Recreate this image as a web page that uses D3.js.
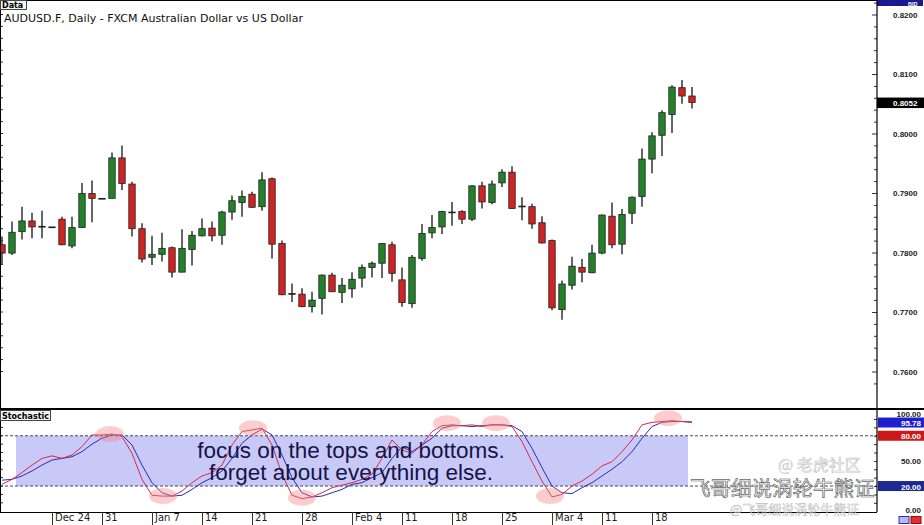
<!DOCTYPE html>
<html>
<head>
<meta charset="utf-8">
<script src="https://cdn.jsdelivr.net/npm/d3@7"></script>
<style>
  body { margin: 0; background: #fff; }
  svg { display: block; }
</style>
</head>
<body>
<svg id="grafico"></svg>
<script>
// AUDUSD daily candles, Dec 17 2012 .. Mar 22 2013 (weekdays)
const abertura = [0.7813,0.7799,0.7835,0.7853,0.7844,0.7843,0.7856,0.7811,0.7842,0.7899,
  0.7891,0.7891,0.7959,0.7915,0.7840,0.7792,0.7797,0.7808,0.7767,0.7805,
  0.7828,0.7841,0.7829,0.7868,0.7884,0.7898,0.7877,0.7924,0.7815,0.7731,
  0.7730,0.7709,0.7723,0.7762,0.7733,0.7739,0.7757,0.7775,0.7782,0.7813,
  0.7754,0.7714,0.7790,0.7833,0.7843,0.7868,0.7869,0.7856,0.7912,0.7884,
  0.7917,0.7935,0.7878,0.7877,0.7850,0.7820,0.7704,0.7745,0.7775,0.7766,
  0.7799,0.7861,0.7814,0.7866,0.7894,0.7957,0.7997,0.8032,0.8077,0.8063];
const maxima = [0.7827,0.7852,0.7877,0.7867,0.7870,0.7843,0.7860,0.7860,0.7917,0.7921,
  0.7891,0.7968,0.7980,0.7919,0.7849,0.7828,0.7833,0.7810,0.7839,0.7836,
  0.7857,0.7852,0.7870,0.7896,0.7904,0.7902,0.7935,0.7926,0.7820,0.7748,
  0.7740,0.7734,0.7763,0.7766,0.7757,0.7767,0.7780,0.7785,0.7816,0.7818,
  0.7775,0.7796,0.7848,0.7863,0.7870,0.7885,0.7871,0.7913,0.7919,0.7921,
  0.7940,0.7945,0.7893,0.7882,0.7861,0.7822,0.7753,0.7793,0.7789,0.7813,
  0.7864,0.7884,0.7873,0.7894,0.7975,0.8002,0.8039,0.8081,0.8090,0.8078];
const minimas = [0.7779,0.7796,0.7822,0.7824,0.7824,0.7843,0.7812,0.7807,0.7841,0.7851,
  0.7891,0.7891,0.7905,0.7827,0.7783,0.7779,0.7785,0.7758,0.7767,0.7778,
  0.7827,0.7819,0.7813,0.7855,0.7860,0.7875,0.7870,0.7790,0.7728,0.7717,
  0.7708,0.7699,0.7696,0.7734,0.7715,0.7724,0.7741,0.7758,0.7757,0.7751,
  0.7709,0.7707,0.7786,0.7824,0.7831,0.7845,0.7848,0.7853,0.7874,0.7881,
  0.7910,0.7873,0.7854,0.7840,0.7815,0.7703,0.7687,0.7738,0.7750,0.7765,
  0.7797,0.7807,0.7797,0.7848,0.7877,0.7933,0.7962,0.8001,0.8050,0.8042];
const fechamento = [0.7799,0.7834,0.7853,0.7843,0.7843,0.7843,0.7813,0.7842,0.7899,0.7891,
  0.7891,0.7959,0.7916,0.7840,0.7789,0.7797,0.7807,0.7767,0.7807,0.7829,
  0.7840,0.7828,0.7868,0.7887,0.7894,0.7876,0.7922,0.7814,0.7729,0.7730,
  0.7709,0.7720,0.7762,0.7734,0.7745,0.7755,0.7775,0.7782,0.7815,0.7765,
  0.7716,0.7792,0.7832,0.7842,0.7869,0.7867,0.7856,0.7912,0.7885,0.7915,
  0.7935,0.7874,0.7877,0.7848,0.7816,0.7707,0.7747,0.7777,0.7767,0.7799,
  0.7863,0.7813,0.7864,0.7893,0.7957,0.7996,0.8035,0.8078,0.8063,0.8052];

// stochastic %K (red) and %D (blue)
const estocK = [22,28,36,45,53,56,53,57,67,81, 81,82,79,59,28,9,8,8,14,24,
  32,36,45,69,85,87,89,69,34,9, 5,7,12,18,21,24,28,34,53,75,
  63,59,69,85,92,93,92,93,91,93, 93,91,73,49,26,7,10,20,26,34,
  44,49,61,75,93,96,97,98,97,95.8];
const estocD = [27,28,32,38,45,51,53,55,61,70, 77,81,81,69,45,24,12,8,9,16,
  24,30,38,53,71,81,88,81,57,30, 12,7,8,12,16,22,24,30,36,53,
  67,61,69,77,89,92,92,91,92,93, 93,92,85,65,42,20,12,11,18,24,
  32,40,49,61,77,91,96,97,97,96.5];

// date axis: candle index of each Monday and its label
const indiceDatas = [5,10,15,20,25,30,35,40,45,50,55,60,65];
const rotulosDatas = ['Dec 24','31','Jan 7','14','21','28','Feb 4','11','18','25','Mar 4','11','18'];

// highlighted tops and bottoms (candle index, stochastic value)
const destaqueIndice = [10.8,16.1,25.1,30,44.5,49.4,54.8,66.6];
const destaqueValor = [82,8,89,6,95,95,8,101];

const largura = 924, altura = 525;
const eixoX = 877;
const svg = d3.select('#grafico').attr('width', largura).attr('height', altura)
  .style('font-family', '"DejaVu Sans", Verdana, sans-serif');

const x = d3.scaleLinear().domain([0, 69]).range([2, 692]);
const y = d3.scaleLinear().domain([0.76, 0.82]).range([371.5, 14.5]);
const yEst = d3.scaleLinear().domain([0, 100]).range([502.8, 419]);

const defs = svg.append('defs');
defs.append('clipPath').attr('id', 'clipPreco').append('rect')
  .attr('x', 0).attr('y', 0).attr('width', eixoX).attr('height', 408);
defs.append('clipPath').attr('id', 'clipEst').append('rect')
  .attr('x', 0).attr('y', 410).attr('width', eixoX).attr('height', 102);

// ---------- price panel ----------
const precos = svg.append('g').attr('clip-path', 'url(#clipPreco)');
const dados = d3.range(abertura.length).map(i => ({
  i, o: abertura[i], h: maxima[i], l: minimas[i], c: fechamento[i]
}));

precos.selectAll('.pavio')
  .data(dados)
  .enter()
  .append('line')
  .classed('pavio', true)
  .attr('x1', d => x(d.i)).attr('x2', d => x(d.i))
  .attr('y1', d => y(d.h)).attr('y2', d => y(d.l))
  .attr('stroke', '#333').attr('stroke-width', 1.5);

precos.selectAll('.corpo')
  .data(dados)
  .enter()
  .append('rect')
  .classed('corpo', true)
  .attr('x', d => x(d.i) - 3.2)
  .attr('y', d => y(Math.max(d.o, d.c)))
  .attr('width', 6.4)
  .attr('height', d => Math.max(0.8, Math.abs(y(d.o) - y(d.c))))
  .attr('fill', d => d.c > d.o ? '#23812a' : (d.c < d.o ? '#d02424' : '#222'))
  .attr('stroke', '#222').attr('stroke-width', 0.8);

// left minor ticks
svg.selectAll('.tickEsq')
  .data(d3.range(0.760, 0.8201, 0.002))
  .enter()
  .append('line')
  .attr('x1', 0).attr('x2', 3)
  .attr('y1', d => y(d)).attr('y2', d => y(d))
  .attr('stroke', '#333');

// right price axis
const eixoPreco = d3.axisRight(y)
  .tickValues(d3.range(0.758, 0.8221, 0.002))
  .tickSize(-3)
  .tickPadding(16)
  .tickFormat(d => Math.abs(Math.round(d * 1000) % 10) === 0 ? d3.format('.4f')(d) : '');
const gEixo = svg.append('g').attr('transform', `translate(${eixoX},0)`).call(eixoPreco);
gEixo.select('.domain').remove();
gEixo.selectAll('text').attr('font-family', '"Liberation Sans", Arial, sans-serif')
  .attr('font-weight', 'bold').attr('font-size', 8).attr('fill', '#222');
gEixo.selectAll('.tick line').attr('stroke', '#333')
  .attr('x2', d => Math.abs(Math.round(d * 1000) % 10) === 0 ? -5 : -3);
gEixo.selectAll('.tick').filter(d => y(d) < 2 || y(d) > 406).remove();

// BID label and current price
svg.append('rect').attr('x', eixoX).attr('y', 0).attr('width', 46).attr('height', 6).attr('fill', '#1b1b8f');
svg.append('text').attr('x', 908).attr('y', 5.5).attr('font-size', 5.5).attr('fill', '#fff')
  .attr('font-weight', 'bold').attr('font-family', '"Liberation Sans", Arial').text('BID');
const ultimo = fechamento[fechamento.length - 1];
svg.append('rect').attr('x', eixoX).attr('y', y(ultimo) - 5).attr('width', 47).attr('height', 10.5).attr('fill', '#000');
svg.append('text').attr('x', 893).attr('y', y(ultimo) + 3).attr('font-size', 8).attr('fill', '#fff')
  .attr('font-weight', 'bold').attr('font-family', '"Liberation Sans", Arial').text(d3.format('.4f')(ultimo));

// ---------- stochastic panel ----------
const est = svg.append('g').attr('clip-path', 'url(#clipEst)');

est.append('rect')
  .attr('x', x(1.4)).attr('y', yEst(80))
  .attr('width', x(68.6) - x(1.4)).attr('height', yEst(20) - yEst(80))
  .attr('fill', '#c9c9f7');

est.selectAll('.nivel')
  .data([80, 20])
  .enter()
  .append('line')
  .attr('x1', 0).attr('x2', eixoX)
  .attr('y1', d => yEst(d)).attr('y2', d => yEst(d))
  .attr('stroke', '#333355').attr('stroke-width', 0.9).attr('stroke-dasharray', '3,2');

const linha = d3.line().x((d, i) => x(i)).y(d => yEst(d)).curve(d3.curveLinear);
est.append('path').datum(estocD).attr('d', linha)
  .attr('fill', 'none').attr('stroke', '#2a2ab4').attr('stroke-width', 1);
est.append('path').datum(estocK).attr('d', linha)
  .attr('fill', 'none').attr('stroke', '#d42a4a').attr('stroke-width', 1);

est.selectAll('.destaque')
  .data(destaqueIndice)
  .enter()
  .append('ellipse')
  .attr('cx', d => x(d))
  .attr('cy', (d, i) => yEst(destaqueValor[i]))
  .attr('rx', 14).attr('ry', 8)
  .attr('fill', 'rgba(244,130,130,0.4)');

const nota = est.append('g')
  .attr('font-family', '"Liberation Sans", Arial, sans-serif')
  .attr('font-size', 22.5).attr('fill', '#141448').attr('text-anchor', 'middle');
nota.append('text').attr('x', 351).attr('y', 458).text('focus on the tops and bottoms.');
nota.append('text').attr('x', 351).attr('y', 480).text('forget about everything else.');

// left ticks on stochastic
svg.selectAll('.tickEstEsq')
  .data(d3.range(0, 101, 10))
  .enter()
  .append('line')
  .attr('x1', 0).attr('x2', 3)
  .attr('y1', d => yEst(d)).attr('y2', d => yEst(d))
  .attr('stroke', '#333');

// right stochastic axis
const eixoEst = d3.axisRight(yEst).tickValues(d3.range(0, 101, 10)).tickSize(-3).tickFormat('');
const gEst = svg.append('g').attr('transform', `translate(${eixoX},0)`).call(eixoEst);
gEst.select('.domain').remove();
gEst.selectAll('.tick line').attr('stroke', '#333');

const rotulosEst = [
  { v: 100, t: '100.00', bg: null, fg: '#222' },
  { v: 95.78, t: '95.78', bg: '#1f1fd0', fg: '#fff' },
  { v: 80, t: '80.00', bg: '#cc1818', fg: '#fff' },
  { v: 50, t: '50.00', bg: null, fg: '#222' },
  { v: 20, t: '20.00', bg: '#1c2a96', fg: '#fff' },
  { v: 0, t: '0.00', bg: null, fg: '#222' }
];
rotulosEst.forEach(r => {
  const yy = r.v === 0 ? 510 : (r.v === 100 ? 414 : yEst(r.v) + 1);
  if (r.bg) svg.append('rect').attr('x', eixoX + 1).attr('y', yy - 6).attr('width', 46).attr('height', 10).attr('fill', r.bg);
  svg.append('text').attr('x', 921).attr('y', yy + 2.5).attr('text-anchor', 'end')
    .attr('font-size', 8).attr('font-weight', 'bold').attr('fill', r.fg)
    .attr('font-family', '"Liberation Sans", Arial').text(r.t);
});

// small icons bottom right
svg.append('rect').attr('x', 899).attr('y', 516.5).attr('width', 10).attr('height', 7)
  .attr('fill', '#b8b8f0').attr('stroke', '#3030a0');
svg.append('rect').attr('x', 911).attr('y', 516.5).attr('width', 10).attr('height', 7)
  .attr('fill', '#e03030').attr('stroke', '#901010');

// ---------- frames ----------
svg.append('line').attr('x1', 0).attr('x2', eixoX).attr('y1', 0.5).attr('y2', 0.5).attr('stroke', '#000');
svg.append('line').attr('x1', 0.5).attr('x2', 0.5).attr('y1', 0).attr('y2', 512).attr('stroke', '#000');
svg.append('line').attr('x1', eixoX).attr('x2', eixoX).attr('y1', 0).attr('y2', 512).attr('stroke', '#000').attr('stroke-width', 1.2);
svg.append('line').attr('x1', 0).attr('x2', largura).attr('y1', 409).attr('y2', 409).attr('stroke', '#000').attr('stroke-width', 2);
svg.append('line').attr('x1', 0).attr('x2', eixoX).attr('y1', 512.5).attr('y2', 512.5).attr('stroke', '#000').attr('stroke-width', 1.2);

// ---------- date axis ----------
const eixoData = d3.axisBottom(x)
  .tickValues(indiceDatas)
  .tickSize(13)
  .tickFormat((d, i) => rotulosDatas[i]);
const gData = svg.append('g').attr('transform', 'translate(0,512)').call(eixoData);
gData.select('.domain').remove();
gData.selectAll('.tick line').attr('stroke', '#333');
gData.selectAll('text')
  .attr('text-anchor', 'start').attr('x', 2.5).attr('y', 2).attr('dy', '0.71em')
  .attr('font-size', 10).attr('fill', '#222')
  .attr('font-family', '"DejaVu Sans", Verdana, sans-serif');

// ---------- titles ----------
svg.append('rect').attr('x', 0.5).attr('y', 0.5).attr('width', 26).attr('height', 9)
  .attr('fill', '#f4f4f4').attr('stroke', '#444');
svg.append('text').attr('x', 2).attr('y', 8).attr('font-size', 8).attr('font-weight', 'bold').text('Data');
svg.append('text').attr('x', 4).attr('y', 22).attr('font-size', 11).attr('fill', '#111')
  .text('AUDUSD.F, Daily - FXCM Australian Dollar vs US Dollar');

svg.append('rect').attr('x', 0.5).attr('y', 410.5).attr('width', 50).attr('height', 10)
  .attr('fill', '#f4f4f4').attr('stroke', '#444');
svg.append('text').attr('x', 2).attr('y', 418.5).attr('font-size', 8).attr('font-weight', 'bold').text('Stochastic');

// ---------- watermark ----------
const marca = svg.append('g').attr('font-family', '"Noto Sans CJK SC", sans-serif');
marca.append('text').attr('x', 778).attr('y', 471).attr('font-size', 16)
  .attr('fill', 'rgba(255,255,255,0.5)').attr('stroke', 'rgba(150,150,150,0.6)').attr('stroke-width', 0.6)
  .text('@ 老虎社区');
marca.append('text').attr('x', 690).attr('y', 496).attr('font-size', 20.5)
  .attr('fill', 'rgba(255,255,255,0.75)').attr('stroke', '#666').attr('stroke-width', 0.7)
  .text('飞哥细说涡轮牛熊证');
marca.append('text').attr('x', 730).attr('y', 514).attr('font-size', 13)
  .attr('fill', 'rgba(255,255,255,0.6)').attr('stroke', 'rgba(140,140,140,0.6)').attr('stroke-width', 0.5)
  .text('@飞哥细说涡轮牛熊证');
</script>
</body>
</html>
